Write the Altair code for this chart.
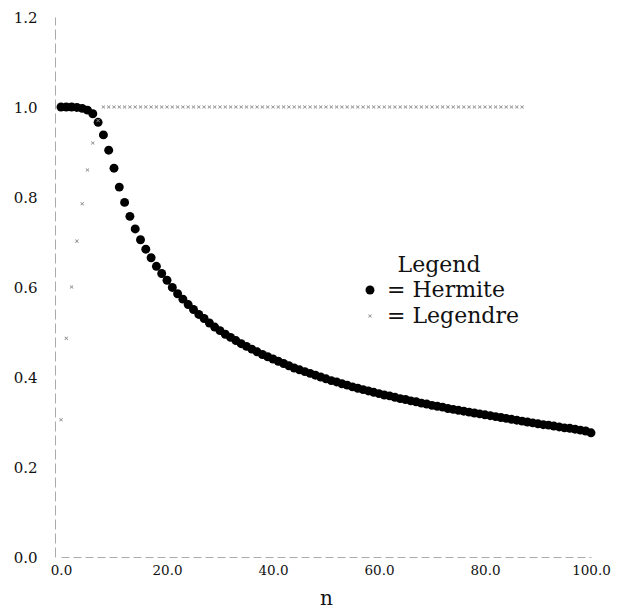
import altair as alt
import pandas as pd

# Hermite series (n = 0..100)
hermite_n = list(range(0, 101))
hermite_v = [
    1.000, 1.000, 1.000, 0.999, 0.997, 0.993, 0.985, 0.966, 0.938, 0.904,
    0.864, 0.822, 0.788, 0.757, 0.729, 0.705, 0.684, 0.665, 0.646, 0.630,
    0.615, 0.599, 0.585, 0.573, 0.561, 0.550, 0.539, 0.530, 0.520, 0.511,
    0.503, 0.495, 0.488, 0.481, 0.474, 0.468, 0.462, 0.456, 0.450, 0.445,
    0.440, 0.435, 0.430, 0.425, 0.420, 0.416, 0.412, 0.408, 0.404, 0.400,
    0.396, 0.392, 0.389, 0.385, 0.382, 0.378, 0.375, 0.372, 0.369, 0.366,
    0.363, 0.360, 0.358, 0.355, 0.352, 0.350, 0.347, 0.345, 0.342, 0.340,
    0.337, 0.335, 0.333, 0.330, 0.328, 0.326, 0.324, 0.322, 0.320, 0.318,
    0.316, 0.314, 0.312, 0.310, 0.308, 0.306, 0.304, 0.302, 0.300, 0.298,
    0.296, 0.294, 0.293, 0.291, 0.289, 0.287, 0.286, 0.284, 0.282, 0.280,
    0.276,
]

# Legendre series (n = 0..87)
legendre_n = list(range(0, 88))
legendre_v = [0.305, 0.486, 0.600, 0.702, 0.785, 0.860, 0.920, 0.970] + [1.0] * 80

series_names = ["Hermite", "Legendre"]
y_ticks = [0.0, 0.2, 0.4, 0.6, 0.8, 1.0, 1.2]
x_ticks = [0, 20, 40, 60, 80, 100]

rows = [{"n": n, "v": v, "series": "Hermite"} for n, v in zip(hermite_n, hermite_v)]
rows += [{"n": n, "v": v, "series": "Legendre"} for n, v in zip(legendre_n, legendre_v)]
df = pd.DataFrame(rows)

XSHAPE = "M-1,-0.7L-0.7,-1L0,-0.3L0.7,-1L1,-0.7L0.3,0L1,0.7L0.7,1L0,0.3L-0.7,1L-1,0.7L-0.3,0Z"
SERIF = "DejaVu Serif"

chart = alt.Chart(df).mark_point(filled=True, opacity=1, strokeWidth=0).encode(
    x=alt.X("n:Q", scale=alt.Scale(domain=[0, 100], nice=False, zero=False),
            axis=alt.Axis(title="n", values=x_ticks, format=".1f", grid=False,
                          ticks=False, domainColor="#aaaaaa", domainDash=[8, 4],
                          labelFlush=False,
                          labelFont=SERIF, labelFontSize=13.5,
                          labelColor="#111", labelPadding=6,
                          titleFont=SERIF, titleFontSize=20,
                          titleFontWeight="normal", titleColor="#111",
                          titlePadding=12)),
    y=alt.Y("v:Q", scale=alt.Scale(domain=[0, 1.2], nice=False),
            axis=alt.Axis(title=None, values=y_ticks, format=".1f", grid=False,
                          ticks=False, domainColor="#aaaaaa", domainDash=[10, 4],
                          labelFlush=False,
                          offset=6, labelFont=SERIF, labelFontSize=15,
                          labelColor="#111", labelPadding=18)),
    color=alt.Color("series:N",
                    scale=alt.Scale(domain=series_names, range=["#000000", "#8a8a8a"]),
                    legend=alt.Legend(title="Legend", orient="none", legendX=298,
                                      legendY=238, titleAnchor="middle",
                                      titleFont=SERIF, titleFontSize=22,
                                      titleFontWeight="normal", titleColor="#111",
                                      labelFont=SERIF, labelFontSize=22,
                                      labelColor="#111", labelExpr="'= ' + datum.label",
                                      rowPadding=4, labelOffset=6, titlePadding=2)),
    shape=alt.Shape("series:N",
                    scale=alt.Scale(domain=series_names, range=["circle", XSHAPE])),
    size=alt.Size("series:N",
                  scale=alt.Scale(domain=series_names, range=[80, 14])),
).properties(
    width=530,
    height=540,
    padding={"left": 61, "top": 17, "right": 35, "bottom": 58},
    autosize=alt.AutoSizeParams(type="none"),
).configure_view(stroke=None).configure_legend(symbolStrokeWidth=0)

chart.save("out.html", embed_options={"renderer": "svg", "actions": False})
